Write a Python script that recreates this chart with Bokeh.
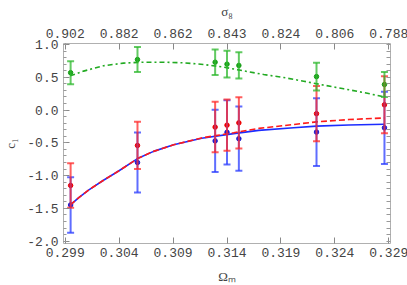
from bokeh.plotting import figure
from bokeh.models import (ColumnDataSource, Whisker, TeeHead, LinearAxis, FixedTicker,
                          PrintfTickFormatter, Range1d)
from bokeh.embed import file_html
from bokeh.resources import INLINE

# ---- data ----
omega = [0.2995, 0.3057, 0.3129, 0.3140, 0.3151, 0.3223, 0.3286]

green_c1 = [0.57, 0.77, 0.73, 0.70, 0.68, 0.51, 0.39]
green_err = [0.176, 0.19, 0.195, 0.205, 0.20, 0.21, 0.19]

red_c1 = [-1.15, -0.54, -0.26, -0.23, -0.195, -0.055, 0.08]
red_err = [0.34, 0.36, 0.385, 0.39, 0.39, 0.42, 0.435]

blue_c1 = [-1.447, -0.80, -0.47, -0.34, -0.437, -0.336, -0.271]
blue_err = [0.423, 0.456, 0.474, 0.49, 0.49, 0.516, 0.55]

# fitted curves
green_curve_x = [0.29946, 0.30070, 0.30255, 0.30441, 0.30627, 0.30812, 0.30998, 0.31183,
                 0.31369, 0.31554, 0.31740, 0.31926, 0.32111, 0.32297, 0.32482, 0.32668, 0.32860]
green_curve_y = [0.522, 0.594, 0.675, 0.716, 0.730, 0.730, 0.720, 0.695,
                 0.655, 0.598, 0.542, 0.496, 0.440, 0.380, 0.324, 0.267, 0.200]

blue_curve_x = [0.29946, 0.30023, 0.30116, 0.30255, 0.30395, 0.30571, 0.30719, 0.30905,
                0.31165, 0.31462, 0.31694, 0.32018, 0.32229, 0.32529, 0.32860]
blue_curve_y = [-1.45, -1.34, -1.22, -1.07, -0.93, -0.74, -0.63, -0.53,
                -0.43, -0.36, -0.31, -0.27, -0.245, -0.228, -0.216]

red_curve_x = [0.29946, 0.30023, 0.30116, 0.30255, 0.30395, 0.30571, 0.30719, 0.30905,
               0.31165, 0.31462, 0.31694, 0.32018, 0.32229, 0.32529, 0.32860]
red_curve_y = [-1.45, -1.34, -1.22, -1.07, -0.93, -0.74, -0.63, -0.53,
               -0.425, -0.345, -0.28, -0.22, -0.18, -0.145, -0.12]

x_ticks = [0.299, 0.304, 0.309, 0.314, 0.319, 0.324, 0.329]
sigma8_labels = ["0.902", "0.882", "0.862", "0.843", "0.824", "0.806", "0.788"]
y_ticks = [-2.0, -1.5, -1.0, -0.5, 0.0, 0.5, 1.0]
y_minor = [round(-2.0 + 0.1 * i, 1) for i in range(31)]

# ---- figure ----
p = figure(frame_width=327, frame_height=200, output_backend="svg", toolbar_location=None,
           x_range=Range1d(0.29884, 0.32916), y_range=Range1d(-2.035, 1.015),
           x_axis_location=None, y_axis_location=None,
           min_border_left=60, min_border_right=19, min_border_top=42, min_border_bottom=42)
p.xgrid.visible = False
p.ygrid.visible = False
p.outline_line_color = None
p.background_fill_color = "white"
p.border_fill_color = "white"

AX = "#b0b0b0"
TXT = "#444444"
MONO = "Liberation Mono"


def style(ax):
    ax.axis_line_color = AX
    ax.major_tick_line_color = "#888888"
    ax.minor_tick_line_color = "#999999"
    ax.major_tick_in = 6
    ax.major_tick_out = 0
    ax.minor_tick_in = 3
    ax.minor_tick_out = 0
    ax.major_label_text_font = MONO
    ax.major_label_text_font_size = "13px"
    ax.major_label_text_color = TXT
    ax.major_label_standoff = 5
    ax.axis_label_text_font = "Liberation Serif"
    ax.axis_label_text_font_size = "13px"
    ax.axis_label_text_font_style = "normal"
    ax.axis_label_text_color = TXT
    ax.axis_label_standoff = 7


bottom = LinearAxis(ticker=FixedTicker(ticks=x_ticks, minor_ticks=[]),
                    formatter=PrintfTickFormatter(format="%.3f"), axis_label="Ωₘ")
style(bottom)
bottom.major_label_standoff = 4
bottom.axis_label_standoff = 9
p.add_layout(bottom, "below")

top = LinearAxis(ticker=FixedTicker(ticks=x_ticks, minor_ticks=[]),
                 major_label_overrides={t: s for t, s in zip(x_ticks, sigma8_labels)},
                 axis_label="σ₈")
style(top)
top.major_label_standoff = 6
top.axis_label_standoff = 7
p.add_layout(top, "above")

left = LinearAxis(ticker=FixedTicker(ticks=y_ticks, minor_ticks=y_minor),
                  formatter=PrintfTickFormatter(format="%.1f"), axis_label="c₁")
style(left)
left.axis_label_standoff = 6
p.add_layout(left, "left")

# right frame: ticks only (all drawn as minor ticks so no labels are produced)
right = LinearAxis(ticker=FixedTicker(ticks=[], minor_ticks=y_minor))
style(right)
right.minor_tick_in = 4
right.major_label_standoff = 0
p.add_layout(right, "right")


def errbars(xs, ys, es, bar_color, pt_color):
    src = ColumnDataSource(dict(x=xs, y=ys,
                                upper=[y + e for y, e in zip(ys, es)],
                                lower=[y - e for y, e in zip(ys, es)]))
    w = Whisker(source=src, base="x", upper="upper", lower="lower",
                line_color=bar_color, line_width=2, line_alpha=0.75, level="glyph",
                upper_head=TeeHead(size=7, line_color=bar_color, line_width=2, line_alpha=0.75),
                lower_head=TeeHead(size=7, line_color=bar_color, line_width=2, line_alpha=0.75))
    p.add_layout(w)
    p.scatter("x", "y", source=src, size=4.5, color=pt_color, line_color=pt_color)


errbars(omega, blue_c1, blue_err, "#2a3cff", "#1a1ad0")
errbars(omega, red_c1, red_err, "#ff2a2a", "#ee0000")

p.line(blue_curve_x, blue_curve_y, line_color="#1c2cff", line_width=1.6)
p.line(red_curve_x, red_curve_y, line_color="#ff1a1a", line_width=1.6, line_dash="6 3")

errbars(omega, green_c1, green_err, "#2eb82e", "#1a9f1a")
p.line(green_curve_x, green_curve_y, line_color="#22aa22", line_width=1.6, line_dash="5 3 2 3")

open("out.html", "w").write(file_html(p, INLINE))
